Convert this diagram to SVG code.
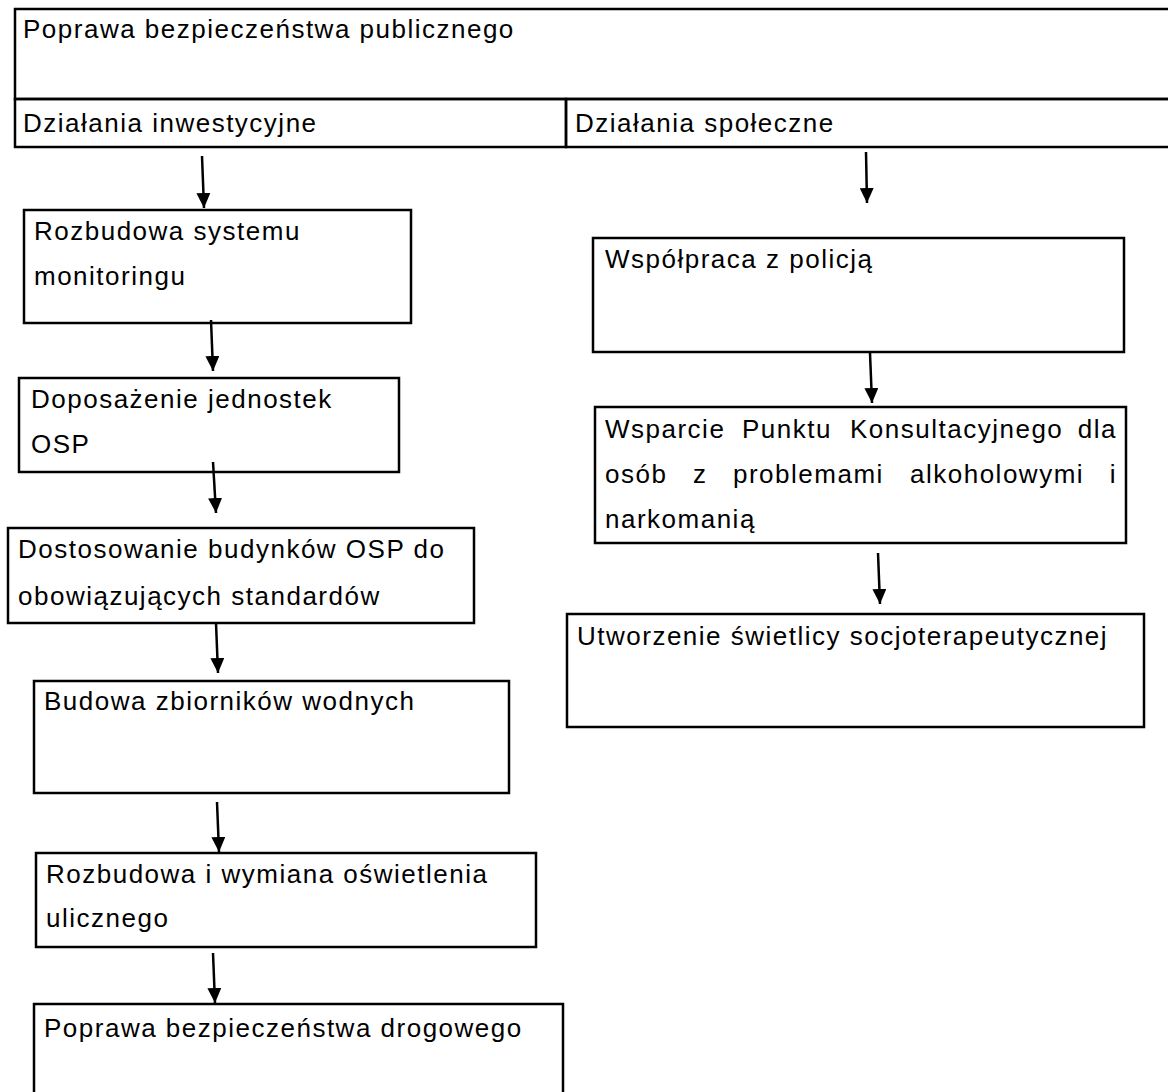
<svg xmlns="http://www.w3.org/2000/svg" width="1168" height="1092" viewBox="0 0 1168 1092">
<style>
.box{fill:none;stroke:#000;stroke-width:2.5}
.t{font-family:"Liberation Sans",Arial,sans-serif;font-size:26px;letter-spacing:1.5px;fill:#000}
.c{stroke:#000;stroke-width:2.5;fill:none}
</style>
<defs>
<marker id="ah" viewBox="0 0 15 14" refX="15" refY="7" markerWidth="15" markerHeight="14" markerUnits="userSpaceOnUse" orient="auto">
<path d="M0,0 L15,7 L0,14 z" fill="#000"/>
</marker>
</defs>
<rect width="1168" height="1092" fill="#fff"/>
<g id="n-top"><rect class="box" x="15" y="9" width="1160" height="90"/><text class="t" x="23" y="38">Poprawa bezpieczeństwa publicznego</text></g>
<g id="n-inwest"><rect class="box" x="15" y="99" width="551" height="48"/><text class="t" x="23" y="132">Działania inwestycyjne</text></g>
<g id="n-spol"><rect class="box" x="566" y="99" width="609" height="48"/><text class="t" x="575" y="132">Działania społeczne</text></g>
<g id="n-monitoring"><rect class="box" x="24" y="210" width="387" height="113"/><text class="t" x="34" y="240">Rozbudowa systemu</text><text class="t" x="34" y="285">monitoringu</text></g>
<g id="n-osp"><rect class="box" x="19" y="378" width="380" height="94"/><text class="t" x="31" y="408">Doposażenie jednostek</text><text class="t" x="31" y="453">OSP</text></g>
<g id="n-budynki"><rect class="box" x="8" y="528" width="466" height="95"/><text class="t" x="18" y="558">Dostosowanie budynków OSP do</text><text class="t" x="18" y="605">obowiązujących standardów</text></g>
<g id="n-zbiorniki"><rect class="box" x="34" y="681" width="475" height="112"/><text class="t" x="44" y="710">Budowa zbiorników wodnych</text></g>
<g id="n-oswietlenie"><rect class="box" x="36" y="853" width="500" height="94"/><text class="t" x="46" y="883">Rozbudowa i wymiana oświetlenia</text><text class="t" x="46" y="927">ulicznego</text></g>
<g id="n-drogowe"><rect class="box" x="34" y="1004" width="529" height="100"/><text class="t" x="44" y="1037">Poprawa bezpieczeństwa drogowego</text></g>
<g id="n-policja"><rect class="box" x="593" y="238" width="531" height="114"/><text class="t" x="605" y="268">Współpraca z policją</text></g>
<g id="n-punkt"><rect class="box" x="595" y="407" width="531" height="136"/>
<text class="t" y="438"><tspan x="605">Wsparcie</tspan><tspan x="742">Punktu</tspan><tspan x="850">Konsultacyjnego</tspan><tspan x="1117" text-anchor="end">dla</tspan></text>
<text class="t" y="483"><tspan x="605">osób</tspan><tspan x="693">z</tspan><tspan x="733">problemami</tspan><tspan x="910">alkoholowymi</tspan><tspan x="1117" text-anchor="end">i</tspan></text>
<text class="t" x="605" y="528">narkomanią</text></g>
<g id="n-swietlica"><rect class="box" x="567" y="614" width="577" height="113"/><text class="t" x="577" y="645">Utworzenie świetlicy socjoterapeutycznej</text></g>
<g id="connectors">
<line class="c" x1="202" y1="156" x2="204" y2="208" marker-end="url(#ah)"/>
<line class="c" x1="211" y1="320" x2="213" y2="371" marker-end="url(#ah)"/>
<line class="c" x1="213" y1="462" x2="216" y2="513" marker-end="url(#ah)"/>
<line class="c" x1="216" y1="623" x2="218" y2="673" marker-end="url(#ah)"/>
<line class="c" x1="217" y1="802" x2="219" y2="852" marker-end="url(#ah)"/>
<line class="c" x1="213" y1="953" x2="215" y2="1003" marker-end="url(#ah)"/>
<line class="c" x1="866" y1="152" x2="867" y2="203" marker-end="url(#ah)"/>
<line class="c" x1="870" y1="353" x2="872" y2="403" marker-end="url(#ah)"/>
<line class="c" x1="878" y1="553" x2="880" y2="604" marker-end="url(#ah)"/>
</g>
</svg>
